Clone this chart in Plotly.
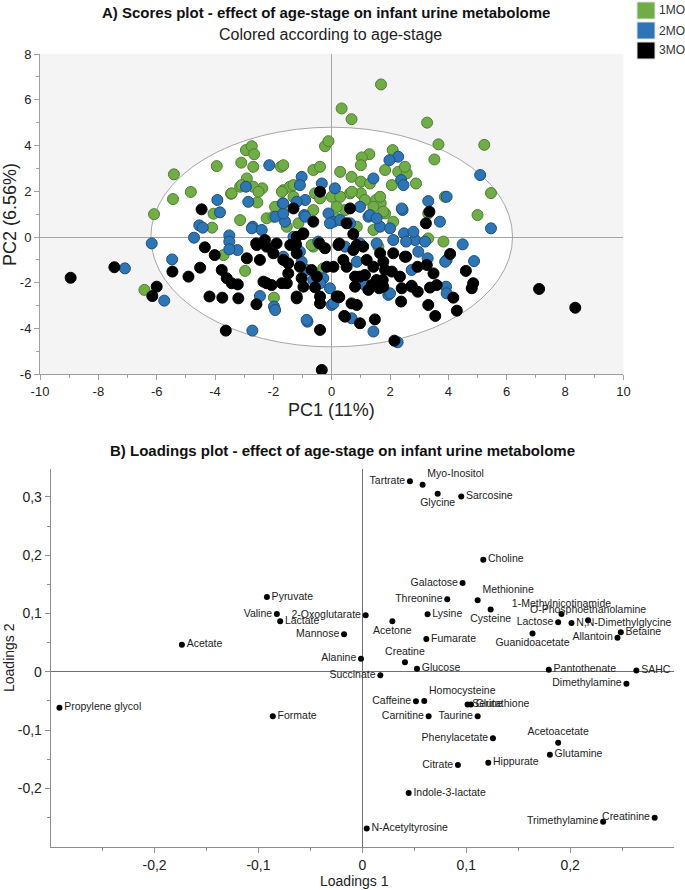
import plotly.graph_objects as go

# ---------------- Scores (PCA) data ----------------
green_x = [-6.42, -6.09, -5.41, -5.44, -4.83, -4.10, -4.05, -3.94, -3.45, -3.14, -3.10, -3.14, -2.97, -2.94, -2.74,
           -2.66, -2.69, -2.91, -2.55, -2.38, -1.74, -2.23, -1.98, -1.66, -1.43, -0.63, -0.40, -0.23, -0.11, 0.34,
           0.29, 0.00, -0.57, -1.31, -1.54, -2.00, -3.71, -0.63, -0.29, -3.09, -2.69, -2.51, -3.43, -1.94, -1.71,
           -1.31, 1.69, 0.68, 3.27, 3.66, 5.23, 3.52, 5.46, 5.00, 3.83, 2.89, 2.09, 1.29, 1.03, 1.00, 0.68, 1.00,
           1.31, 1.83, 2.28, 2.57, 2.06, 1.00, 0.63, 1.52, 1.68, 1.43, 1.83, 2.11, 1.43, 3.31, 3.88, 0.17, 3.31,
           1.60, 0.46, -1.66, 2.51, 1.14, 0.69, -0.40, 0.17, 0.29, -0.63, -1.14, 0.86, -0.69, 1.66, 1.77]
green_y = [-2.31, 1.00, 2.74, 1.66, 1.97, 0.41, 1.02, 3.10, 1.89, 0.74, 3.25, 2.20, -1.48, 3.80, 3.97,
           3.62, 3.07, 2.56, 1.51, 2.13, 3.07, 0.82, -2.65, 2.05, 2.20, 2.93, 3.07, 3.97, 4.19, 5.62,
           2.85, 1.76, 1.91, 1.76, 0.45, 0.89, -0.79, -0.42, -1.37, 2.27, 2.20, 1.98, 1.91, 1.32, 1.98,
           2.27, 6.67, 5.15, 5.00, 4.05, 4.03, 3.39, 1.92, 0.96, -0.20, 2.34, 3.80, 3.62, 3.48, 3.14, 2.63, 2.42,
           2.34, 2.93, 2.85, 2.78, 2.27, 1.91, 1.91, 1.62, 1.47, 1.32, 1.03, 0.67, 0.31, 1.03, 1.76, 0.82, -0.06,
           -0.42, 1.18, 3.14, 3.07, 1.62, 1.98, 1.69, 1.32, 1.76, 1.18, 0.60, 0.45, -0.35, 1.76, 1.11]

blue_x = [-6.17, -7.09, -5.74, -5.47, -4.72, -4.54, -4.42, -3.92, -3.83, -3.51, -3.51, -3.23, -3.51, -2.94, -2.86,
          -2.71, -2.46, -2.14, -1.98, -1.94, -2.72, -1.93, -1.68, -1.60, -0.83, -1.03, -1.09, -0.91, -0.94, -1.20,
          -1.31, -1.03, -0.86, -0.63, -0.34, -0.46, -0.11, 0.11, -0.06, 0.00, -0.29, 0.06, -2.74, -2.40, -1.66,
          5.09, 5.46, 4.88, 4.49, 3.94, 3.94, 3.92, 3.71, 3.31, 3.29, 2.97, 2.86, 2.28, 1.98, 2.38, 2.46, 1.43,
          2.43, 2.48, 2.55, 2.11, 1.66, 1.26, 0.97, 1.54, 1.43, 2.26, 0.68, 1.94, 2.74, 1.14, 0.63, 0.46, 0.86,
          0.06, 1.31, 2.80, 3.20, 3.89, 3.94, 2.00, -0.40, -0.86, 0.97, -1.66, -1.09, 0.29, -1.66, -0.91, -0.06,
          2.40, 2.00, 1.54]
blue_y = [-0.28, -1.37, -2.78, -0.98, -0.03, 0.51, 0.41, 1.62, 1.08, 0.07, -0.20, -0.57, -0.54, 2.20, 1.54,
          0.45, -2.58, 3.14, -3.04, -3.19, -4.09, 0.89, 1.47, 0.67, -3.70, 2.63, 2.27, 1.62, 0.96, 1.54,
          0.01, -1.08, -1.44, -1.88, 2.34, -0.20, 1.03, 2.13, -2.24, -2.97, -1.80, 0.67, 0.38, 0.31, 1.03,
          2.71, 0.38, -1.05, -0.32, 1.76, -1.00, -2.17, 0.67, 1.57, -0.93, -0.64, -0.13, 3.51, 3.36, 2.49, 2.27, 2.56,
          1.18, 0.16, -0.20, -0.13, 0.45, 0.89, 1.32, -0.28, -4.13, -4.60, -3.55, -2.53, -1.44, -2.10, 0.60, -0.42, -1.08,
          -2.90, 0.96, 0.23, -0.20, -1.08, -2.46, -2.46, -2.02, -3.62, -0.28, -0.86, -0.64, 0.74, 1.47, 0.89, 0.60,
          1.25, 0.38, 0.82]

black_x = [-8.95, -7.45, -6.00, -6.15, -5.46, -4.91, -4.46, -4.35, -4.51, -4.19, -4.01, -3.75, -3.63, -3.77, -3.60,
           -3.20, -3.22, -2.91, -2.58, -2.59, -2.23, -2.46, -1.89, -2.00, -2.34, -2.06, -1.71, -1.49, -1.66, -1.31,
           -1.20, -1.22, -0.97, -1.03, -1.20, -0.63, -0.69, -0.57, -0.40, -0.42, -0.40, -0.34, -0.40, -0.17, -0.23,
           0.23, 0.46, -2.57, -2.29, -1.20, -2.23, -1.54, -3.43,
           7.11, 8.35, 4.06, 4.60, 4.85, 4.80, 4.17, 4.29, 3.55, 3.31, 3.60, 3.37, 3.49, 2.94, 3.26, 3.35, 3.23,
           2.95, 2.74, 2.38, 2.15, 2.55, 2.34, 2.11, 2.40, 1.77, 1.75, 1.48, 1.63, 1.37, 0.97, 0.86, 0.68, 0.43,
           0.26, 0.80, 0.80, 0.63, 0.51, 0.74, 0.26, 0.74, 1.08, 1.20, 1.43, 0.40, 0.06, 1.14, 2.06, 1.83,
           -0.99, -1.42, 0.23, 1.66, 2.51, -0.51, -1.09, -1.49, -0.97, -0.40, -1.20, 0.17, 1.26, 1.77, 0.86, 1.54,
           0.51, 2.74, 0.97]
black_y = [-1.78, -1.32, -2.17, -2.58, -1.51, -1.73, 1.21, -0.45, -1.34, -2.60, -0.79, -2.65, -4.09, -1.44, -1.80,
           -2.68, -2.07, -0.93, -2.94, -0.28, -0.42, -1.00, -0.28, -0.71, -1.95, -2.10, -2.02, -1.59, -1.00, 1.25,
           -0.71, -0.32, 0.16, -1.80, -2.60, 0.67, -1.44, -2.20, 1.98, -0.28, -4.06, -5.81, -2.90, -1.30, -0.49,
           -2.60, -3.48, -0.35, -0.13, 0.01, -2.02, -2.02, -2.02,
           -2.27, -3.09, -0.74, -1.48, -2.02, -2.24, -2.65, -3.22, -3.45, -2.97, -2.10, -2.21, -1.59, -1.30, -1.22, 1.11, 0.60,
           -2.39, -2.13, -2.82, -4.53, -0.86, -1.73, -0.71, -2.24, -1.08, -1.88, -3.60, -2.24, -2.10, -3.77, -2.97, -2.90, -3.45,
           -2.63, -2.17, -1.73, 1.25, 0.60, 0.13, -0.28, -0.57, -0.42, -1.00, -1.30, -1.00, -1.30, -1.66, -1.51, -1.44,
           0.13, -0.35, -0.35, -0.71, -0.86, -1.73, -1.30, -1.15, -2.17, -2.60, -2.68, -2.60, -2.31, -2.17, -0.35, -1.88,
           -1.30, -2.17, -1.73]

group_names = ["1MO", "2MO", "3MO"]
score_ticks = [-10, -8, -6, -4, -2, 0, 2, 4, 6, 8, 10]
score_yticks = [-6, -4, -2, 0, 2, 4, 6, 8]

# ---------------- Loadings data ----------------
metabolites = ["Tartrate", "Myo-Inositol", "Glycine", "Sarcosine", "Choline", "Galactose", "Threonine",
               "Methionine", "Cysteine", "Lysine", "2-Oxoglutarate", "Acetone", "1-Methylnicotinamide",
               "O-Phosphoethanolamine", "Lactose", "N,N-Dimethylglycine", "Guanidoacetate", "Allantoin",
               "Betaine", "Pantothenate", "SAHC", "Dimethylamine", "Pyruvate", "Valine", "Lactate", "Mannose",
               "Alanine", "Succinate", "Creatine", "Glucose", "Fumarate", "Caffeine", "Homocysteine", "Serine",
               "Glutathione", "Carnitine", "Taurine", "Phenylacetate", "Acetoacetate", "Glutamine", "Citrate",
               "Hippurate", "Indole-3-lactate", "N-Acetyltyrosine", "Trimethylamine", "Creatinine", "Acetate",
               "Propylene glycol", "Formate"]
loadings1 = [0.0458, 0.0580, 0.0725, 0.0952, 0.1164, 0.0965, 0.0817,
             0.1110, 0.1235, 0.0628, 0.0032, 0.0289, 0.1917,
             0.2173, 0.1885, 0.2013, 0.1638, 0.2456,
             0.2488, 0.1795, 0.2638, 0.2542, -0.0919, -0.0823, -0.0791, -0.0176,
             -0.0013, 0.0173, 0.0410, 0.0526, 0.0616, 0.0516, 0.0596, 0.1013,
             0.1045, 0.0638, 0.1110, 0.1257, 0.1885, 0.1805, 0.0920,
             0.1212, 0.0446, 0.0042, 0.2318, 0.2814, -0.1737,
             -0.2916, -0.0862]
loadings2 = [0.327, 0.321, 0.3056, 0.301, 0.1925, 0.1525, 0.1245,
             0.1228, 0.1068, 0.0988, 0.0970, 0.0868, 0.0994,
             0.0884, 0.0850, 0.0840, 0.0656, 0.0583,
             0.0679, 0.0034, 0.0022, -0.0206, 0.1285, 0.0994, 0.0868, 0.0645,
             0.0223, -0.0058, 0.0165, 0.0051, 0.0565, -0.0504, -0.0500, -0.0560,
             -0.0560, -0.0761, -0.0761, -0.1138, -0.1217, -0.1423, -0.1600,
             -0.1560, -0.2080, -0.2686, -0.2570, -0.2503, 0.0463,
             -0.0617, -0.0761]
label_side = ["middle left", "top right", "bottom center", "middle right", "middle right", "middle left",
              "middle left", "top right", "bottom center", "middle right", "middle left", "bottom center",
              "top center", "top center", "middle left", "middle right", "bottom center", "middle left",
              "middle right", "middle right", "middle right", "middle left", "middle right", "middle left",
              "middle right", "middle left", "middle left", "middle left", "top center", "middle right",
              "middle right", "middle left", "top right", "middle right", "middle right", "middle left",
              "middle left", "middle left", "top center", "middle right", "middle left", "middle right",
              "middle right", "middle right", "middle left", "middle left", "middle right", "middle right",
              "middle right"]
load_xticks = [-0.2, -0.1, 0.0, 0.1, 0.2]
load_xtext = ["-0,2", "-0,1", "0", "0,1", "0,2"]
load_yticks = [-0.2, -0.1, 0.0, 0.1, 0.2, 0.3]
load_ytext = ["-0,2", "-0,1", "0", "0,1", "0,2", "0,3"]

FONT = "Arial, 'Liberation Sans', sans-serif"
W, H = 685, 890

fig = go.Figure()

colors = {"1MO": ("#70AD47", "#4E7F30"), "2MO": ("#2E75B6", "#1F4E79"), "3MO": ("#000000", "#000000")}
for name, xs, ys in [("1MO", green_x, green_y), ("2MO", blue_x, blue_y), ("3MO", black_x, black_y)]:
    fill, edge = colors[name]
    fig.add_trace(go.Scatter(x=xs, y=ys, mode="markers", name=name, showlegend=False, xaxis="x", yaxis="y",
                             marker=dict(size=11, color=fill, line=dict(color=edge, width=1))))

fig.add_trace(go.Scatter(x=loadings1, y=loadings2, mode="markers+text", text=metabolites,
                         textposition=label_side, showlegend=False, xaxis="x2", yaxis="y2",
                         cliponaxis=False,
                         marker=dict(size=6, color="#000000"),
                         textfont=dict(family=FONT, size=10.5, color="#222222")))

px2x = lambda p: p / W
py2y = lambda p: 1 - p / H

common = dict(showgrid=False, automargin=False, showline=True, ticks="outside", ticklen=5)
fig.update_layout(
    width=W, height=H, margin=dict(l=0, r=0, t=0, b=0, autoexpand=False),
    paper_bgcolor="white", plot_bgcolor="white", showlegend=False,
    font=dict(family=FONT, color="#222222"),
    xaxis=dict(domain=[px2x(40), px2x(623.4)], range=[-10, 10], tickmode="array", tickvals=score_ticks,
               ticktext=[str(v) for v in score_ticks], zeroline=True, zerolinecolor="#a6a6a6",
               zerolinewidth=1, linecolor="#a0a0a0", tickcolor="#a0a0a0",
               tickfont=dict(size=13, color="#222222"),
               minor=dict(tickmode="array", tickvals=list(range(-9, 10, 2)), ticks="outside", ticklen=3,
                          tickcolor="#a0a0a0"), **common),
    yaxis=dict(domain=[py2y(374.3), py2y(54)], range=[-6, 8], tickmode="array", tickvals=score_yticks,
               ticktext=[str(v) for v in score_yticks], zeroline=True, zerolinecolor="#a6a6a6",
               zerolinewidth=1, linecolor="#a0a0a0", tickcolor="#a0a0a0",
               tickfont=dict(size=13, color="#222222"),
               minor=dict(tickmode="array", tickvals=list(range(-5, 8, 2)), ticks="outside", ticklen=3,
                          tickcolor="#a0a0a0"), **common),
    xaxis2=dict(domain=[px2x(50.7), px2x(674)], range=[-0.3, 0.3], anchor="y2", tickmode="array",
                tickvals=load_xticks, ticktext=load_xtext, zeroline=True, zerolinecolor="#707070",
                zerolinewidth=1, linecolor="#8c8c8c", tickcolor="#8c8c8c",
                tickfont=dict(size=14, color="#222222"),
                minor=dict(tickmode="array", tickvals=[-0.25, -0.15, -0.05, 0.05, 0.15, 0.25], ticks="outside",
                           ticklen=3, tickcolor="#8c8c8c"), **common),
    yaxis2=dict(domain=[py2y(846.7), py2y(469)], range=[-0.3, 0.348], anchor="x2", tickmode="array",
                tickvals=load_yticks, ticktext=load_ytext, zeroline=True, zerolinecolor="#707070",
                zerolinewidth=1, linecolor="#8c8c8c", tickcolor="#8c8c8c",
                tickfont=dict(size=14, color="#222222"),
                minor=dict(tickmode="array", tickvals=[-0.25, -0.15, -0.05, 0.05, 0.15, 0.25], ticks="outside",
                           ticklen=3, tickcolor="#8c8c8c"), **common),
)

# grey plot background outside the confidence ellipse, white inside
fig.add_shape(type="rect", xref="x domain", yref="y domain", x0=0, x1=1, y0=0, y1=1,
              fillcolor="#f4f4f4", line=dict(width=0), layer="below")
fig.add_shape(type="circle", xref="x", yref="y", x0=-6.2, x1=6.2, y0=-4.8, y1=4.8,
              fillcolor="white", line=dict(color="#a6a6a6", width=1), layer="below")

# legend (colour key) drawn as squares + labels in the top-right corner
for i, name in enumerate(group_names):
    fill, edge = colors[name]
    cy = 10.5 + 20 * i
    fig.add_shape(type="rect", xref="paper", yref="paper", x0=px2x(637), x1=px2x(655),
                  y0=py2y(cy + 8.5), y1=py2y(cy - 8.5), fillcolor=fill, line=dict(color="#e0e0e0", width=1))
    fig.add_annotation(text=name, xref="paper", yref="paper", x=px2x(657), y=py2y(cy), xanchor="left",
                       yanchor="middle", showarrow=False,
                       font=dict(size=12, color="#333333", family=FONT))

ann = [
    dict(text="<b>A) Scores plot - effect of age-stage on infant urine metabolome</b>", x=px2x(326), y=py2y(13),
         font=dict(size=15, color="#111111")),
    dict(text="Colored according to age-stage", x=px2x(330), y=py2y(34), font=dict(size=16, color="#222222")),
    dict(text="PC1 (11%)", x=px2x(331), y=py2y(410), font=dict(size=18, color="#222222")),
    dict(text="PC2 (6.56%)", x=px2x(10), y=py2y(215), textangle=-90, font=dict(size=18, color="#222222")),
    dict(text="<b>B) Loadings plot - effect of age-stage on infant urine metabolome</b>", x=px2x(342),
         y=py2y(451), font=dict(size=15, color="#111111")),
    dict(text="Loadings 1", x=px2x(354), y=py2y(881), font=dict(size=14, color="#222222")),
    dict(text="Loadings 2", x=px2x(9), y=py2y(658), textangle=-90, font=dict(size=14, color="#222222")),
]
for a in ann:
    fig.add_annotation(xref="paper", yref="paper", showarrow=False, xanchor="center", yanchor="middle", **a)

fig.write_html("out.html", config={"displayModeBar": False},
               post_script="document.body.style.margin='0px';document.body.style.overflow='hidden';")
